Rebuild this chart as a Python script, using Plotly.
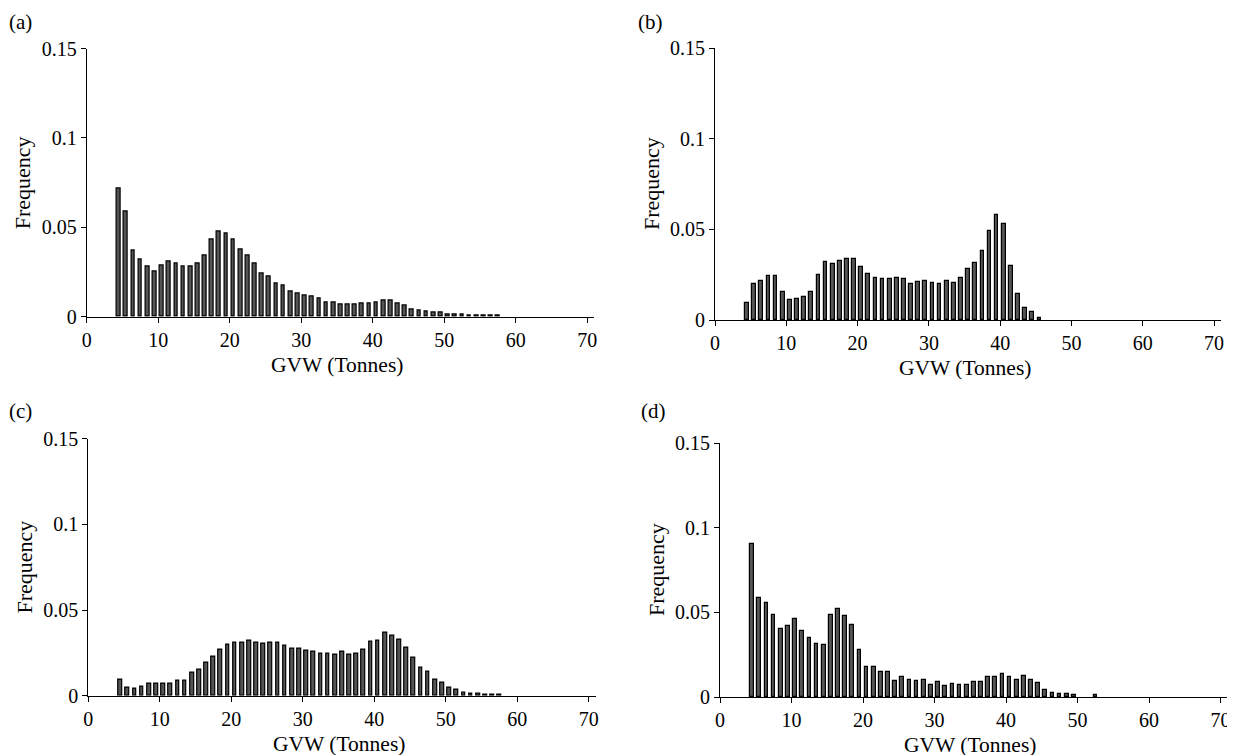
import plotly.graph_objects as go
import numpy as np

# The page body has an 8px margin; coordinates below are viewport pixels.
OFF = 8
W, H = 1235, 755

# Bin centres (tonnes)
bins_a = list(np.arange(4.5, 58.0, 1.0))
bins_b = list(np.arange(4.5, 46.0, 1.0))
bins_c = list(np.arange(4.5, 58.0, 1.0))
bins_d = list(np.arange(4.5, 53.0, 1.0))

freq_a = [0.0718, 0.0587, 0.0369, 0.0321, 0.0283, 0.0254, 0.0289, 0.0309, 0.0298, 0.0280,
          0.0283, 0.0298, 0.0343, 0.0431, 0.0475, 0.0468, 0.0431, 0.0375, 0.0345, 0.0296,
          0.0239, 0.0224, 0.0186, 0.0173, 0.0142, 0.0127, 0.0119, 0.0112, 0.0101, 0.0082,
          0.0077, 0.0067, 0.0067, 0.0067, 0.0076, 0.0073, 0.0082, 0.0091, 0.0091, 0.0073,
          0.0060, 0.0039, 0.0035, 0.0030, 0.0022, 0.0021, 0.0015, 0.0013, 0.0011, 0.0009,
          0.0007, 0.0007, 0.0006, 0.0005]

freq_b = [0.0092, 0.0200, 0.0213, 0.0244, 0.0244, 0.0153, 0.0112, 0.0118, 0.0127, 0.0153,
          0.0246, 0.0322, 0.0311, 0.0327, 0.0336, 0.0336, 0.0292, 0.0252, 0.0232, 0.0226,
          0.0226, 0.0232, 0.0226, 0.0200, 0.0208, 0.0213, 0.0202, 0.0197, 0.0217, 0.0202,
          0.0232, 0.0281, 0.0316, 0.0380, 0.0492, 0.0581, 0.0531, 0.0300, 0.0141, 0.0068,
          0.0042, 0.0009]

freq_c = [0.0093, 0.0047, 0.0039, 0.0054, 0.0070, 0.0070, 0.0070, 0.0070, 0.0086, 0.0086,
          0.0134, 0.0152, 0.0193, 0.0226, 0.0266, 0.0298, 0.0309, 0.0309, 0.0319, 0.0309,
          0.0303, 0.0309, 0.0309, 0.0292, 0.0276, 0.0276, 0.0263, 0.0257, 0.0245, 0.0245,
          0.0241, 0.0257, 0.0241, 0.0245, 0.0268, 0.0317, 0.0321, 0.0368, 0.0350, 0.0325,
          0.0278, 0.0220, 0.0161, 0.0138, 0.0093, 0.0074, 0.0049, 0.0033, 0.0018, 0.0014,
          0.0010, 0.0008, 0.0008, 0.0008]

freq_d = [0.0901, 0.0582, 0.0555, 0.0484, 0.0399, 0.0417, 0.0458, 0.0390, 0.0346, 0.0313,
          0.0309, 0.0484, 0.0518, 0.0480, 0.0425, 0.0277, 0.0179, 0.0179, 0.0146, 0.0146,
          0.0094, 0.0120, 0.0100, 0.0094, 0.0100, 0.0069, 0.0089, 0.0065, 0.0076, 0.0071,
          0.0071, 0.0091, 0.0091, 0.0116, 0.0116, 0.0138, 0.0116, 0.0100, 0.0126, 0.0100,
          0.0085, 0.0043, 0.0026, 0.0016, 0.0016, 0.0010, None, None, 0.0010]

panel_labels = ["(a)", "(b)", "(c)", "(d)"]
x_title = "GVW (Tonnes)"
y_title = "Frequency"
x_ticks = [0, 10, 20, 30, 40, 50, 60, 70]
y_ticks = [0, 0.05, 0.1, 0.15]
y_ticktext = ["0", "0.05", "0.1", "0.15"]

FONT = "Liberation Serif, Times New Roman, serif"


def px(x):
    return (x - OFF) / W


def py(y):
    return 1 - (y - OFF) / H


# Pixel geometry of each panel in the viewport:
# (x px of value 0, px per tonne, y px of 0, y px of 0.15)
geo = [
    (86.7, 7.15, 316.7, 48.5),
    (715.0, 7.13, 320.0, 48.0),
    (88.3, 7.15, 695.7, 438.7),
    (720.0, 7.15, 697.0, 443.0),
]
XMAX = 71

fig = go.Figure()
data = [(bins_a, freq_a), (bins_b, freq_b), (bins_c, freq_c), (bins_d, freq_d)]

annotations = []
for i, ((bx, fy), (x0, ppu, y0, y1)) in enumerate(zip(data, geo)):
    n = "" if i == 0 else str(i + 1)
    fig.add_trace(go.Bar(
        x=bx, y=fy, width=0.52,
        marker=dict(color="#555555", line=dict(color="black", width=1.2)),
        xaxis="x" + n, yaxis="y" + n, showlegend=False,
    ))
    xd = [px(x0), min(1, px(x0 + XMAX * ppu))]
    yd = [py(y0), py(y1)]
    axis_common = dict(showline=True, linecolor="black", linewidth=1, ticks="outside",
                       ticklen=5, tickcolor="black", tickwidth=1, showgrid=False,
                       zeroline=False, automargin=False,
                       tickfont=dict(family=FONT, size=20, color="black"))
    fig.update_layout(**{
        "xaxis" + n: dict(domain=xd, range=[0, XMAX], tickvals=x_ticks,
                          anchor="y" + n, **axis_common),
        "yaxis" + n: dict(domain=yd, range=[0, 0.15], tickvals=y_ticks, ticktext=y_ticktext,
                          anchor="x" + n, **axis_common),
    })
    annotations.append(dict(text=x_title, xref="paper", yref="paper",
                            x=px(x0 + 35 * ppu), y=py(y0 + 48),
                            xanchor="center", yanchor="middle", showarrow=False,
                            font=dict(family=FONT, size=21.5, color="black")))
    annotations.append(dict(text=y_title, xref="paper", yref="paper",
                            x=px(x0 - 64), y=py((y0 + y1) / 2), textangle=-90,
                            xanchor="center", yanchor="middle", showarrow=False,
                            font=dict(family=FONT, size=22, color="black")))

# (x left, y top) of each panel label in viewport pixels
label_pos = [(7, 8), (636, 8), (7, 397), (639, 397)]
for lab, (lx, ly) in zip(panel_labels, label_pos):
    annotations.append(dict(text=lab, xref="paper", yref="paper", x=px(lx), y=py(ly),
                            xanchor="left", yanchor="top", showarrow=False,
                            font=dict(family=FONT, size=21, color="black")))

fig.update_layout(template="none", width=W, height=H,
                  margin=dict(l=0, r=0, t=0, b=0, autoexpand=False),
                  paper_bgcolor="white", plot_bgcolor="white",
                  annotations=annotations, bargap=0)

fig.write_html("out.html")
